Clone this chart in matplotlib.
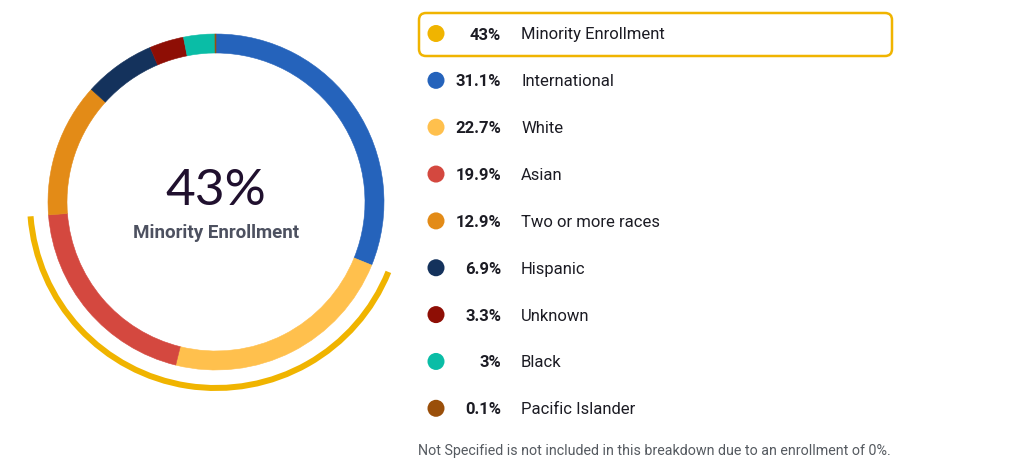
import numpy as np
import matplotlib
matplotlib.use("Agg")
import matplotlib.pyplot as plt
from matplotlib.patches import Wedge, FancyBboxPatch

# ---------------------------------------------------------
# data
# ---------------------------------------------------------
groups = ["International", "White", "Asian", "Two or more races",
          "Hispanic", "Unknown", "Black", "Pacific Islander"]
shares = [31.1, 22.7, 19.9, 12.9, 6.9, 3.3, 3.0, 0.1]
share_labels = ["31.1%", "22.7%", "19.9%", "12.9%", "6.9%", "3.3%", "3%", "0.1%"]
colors = ["#2563bb", "#ffc04d", "#d4483f", "#e38b17",
          "#14325c", "#8e0e05", "#0abda6", "#9a4f0a"]

minority_pct = 43
minority_label = "Minority Enrollment"
highlight = "#f0b400"
footnote = "Not Specified is not included in this breakdown due to an enrollment of 0%."

W, H = 1021, 472
plt.rcParams['font.family'] = ['Roboto', 'DejaVu Sans']

fig = plt.figure(figsize=(W / 100, H / 100), dpi=100)
ax = fig.add_axes([0, 0, 1, 1])

def py(y):
    # pixel row -> data y
    return H - y

# ---------------------------------------------------------
# donut
# ---------------------------------------------------------
cx, cy, R, ring = 216, py(202), 168, 19
wedges, _ = ax.pie(shares, colors=colors, radius=R, center=(cx, cy), startangle=90,
                   counterclock=False, wedgeprops=dict(width=ring, linewidth=0.4))
for w, c in zip(wedges, colors):
    w.set_edgecolor(c)

# yellow arc: in the original it sits over the White + Asian segments
total = sum(shares)
start = 90 - 360 * shares[0] / total
end = 90 - 360 * sum(shares[:3]) / total
ax.add_patch(Wedge((cx, cy), 189, end, start, width=6,
                   facecolor=highlight, edgecolor="none"))

ax.text(cx, py(205), f"{minority_pct}%", ha="center", va="baseline",
        fontsize=37, fontfamily=["Lato", "DejaVu Sans"], fontweight="normal", color="#20102e")
ax.text(cx, py(238), minority_label, ha="center", va="baseline",
        fontsize=13.5, fontweight="bold", color="#4d5160")

# ---------------------------------------------------------
# legend list
# ---------------------------------------------------------
row0, step = 33.5, 46.85
rows = [f"{minority_pct}%"] + share_labels
names = [minority_label] + groups
dots = [highlight] + colors

ax.add_patch(FancyBboxPatch((419, py(56)), 473, 43,
                            boxstyle="round,pad=0,rounding_size=7",
                            facecolor="none", edgecolor=highlight, linewidth=1.8))

for i, (pct, name, c) in enumerate(zip(rows, names, dots)):
    y = py(row0 + i * step)
    ax.scatter([436], [y], s=150, color=c, edgecolors="none", zorder=3)
    ax.text(501, y, pct, ha="right", va="center_baseline", fontsize=12,
            fontweight="bold", color="#1c1c24")
    ax.text(521, y, name, ha="left", va="center_baseline", fontsize=12,
            color="#1c1c24")

ax.text(418, py(450), footnote, ha="left", va="center_baseline",
        fontsize=10.3, color="#555a60")

ax.set_xlim(0, W)
ax.set_ylim(0, H)
ax.set_aspect("equal")
ax.axis("off")

fig.savefig("out.png", dpi=100, facecolor="white")
